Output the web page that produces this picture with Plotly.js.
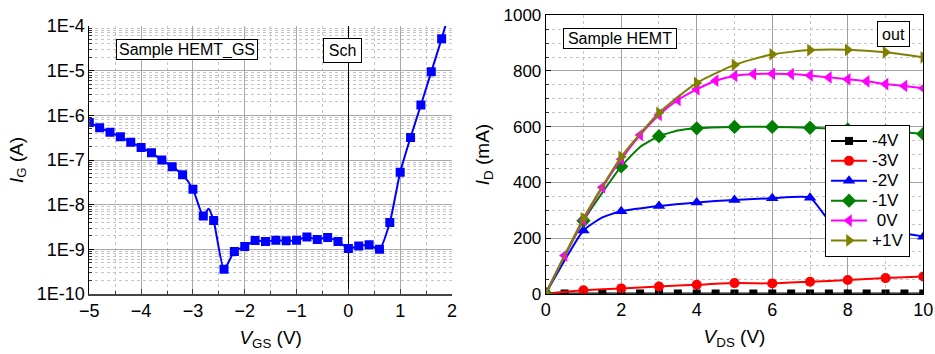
<!DOCTYPE html>
<html>
<head>
<meta charset="utf-8">
<script src="https://cdn.plot.ly/plotly-3.0.1.min.js"></script>
<style>html,body{margin:0;padding:0;background:#fff;}#chart{width:935px;height:354px;}</style>
</head>
<body>
<div id="chart"></div>
<script>
// ---------- Left panel: gate leakage I_G vs V_GS ----------
const vgs = [-5,-4.8,-4.6,-4.4,-4.2,-4,-3.8,-3.6,-3.4,-3.2,-3,-2.8,-2.6,-2.4,-2.2,-2,-1.8,-1.6,-1.4,-1.2,-1,-0.8,-0.6,-0.4,-0.2,0,0.2,0.4,0.6,0.8,1,1.2,1.4,1.6,1.8];
const ig = [6.9e-7,5.3e-7,4.2e-7,3.3e-7,2.5e-7,1.9e-7,1.45e-7,1.0e-7,7.1e-8,4.7e-8,2.2e-8,5.6e-9,4.4e-9,3.6e-10,8.9e-10,1.15e-9,1.57e-9,1.5e-9,1.6e-9,1.55e-9,1.6e-9,1.9e-9,1.65e-9,1.85e-9,1.5e-9,1.05e-9,1.18e-9,1.26e-9,1.0e-9,4.0e-9,5.3e-8,3.2e-7,1.7e-6,9.4e-6,5.2e-5];
// line-only points (no marker drawn there)
const vgsLineOnly = [-2.7, 1.9];
const igLineOnly = [8.1e-9, 1.3e-4];
const igTickVals = [1e-10,1e-9,1e-8,1e-7,1e-6,1e-5,1e-4];
const igTickText = ['1E-10','1E-9','1E-8','1E-7','1E-6','1E-5','1E-4'];

// ---------- Right panel: output I_D vs V_DS ----------
const vdsInt = [0,1,2,3,4,5,6,7,8,9,10];
const vdsHalf = [0,0.5,1,1.5,2,2.5,3,3.5,4,4.5,5,5.5,6,6.5,7,7.5,8,8.5,9,9.5,10];
const idM4V = [0,1,1,1,1,1,1,1,1,1,1,1,1,1,1,1,1,1,1,1,1];              // on vdsHalf
const idM3V = [0,12,19,26,32,38,37,43,49,56,62];                          // on vdsInt
const idM2V = [0,227,296,315,328,337,343,345,245,228,205];                // on vdsInt
const idM1V = [0,262,457,566,594,599,599,596,590,584,574];                // on vdsInt
const id0V  = [0,137,265,382,483,570,642,696,734,765,782,789,790,789,784,777,770,763,753,746,738]; // on vdsHalf
const idP1V = [0,271,492,650,757,822,860,875,876,867,849];                // on vdsInt
const vdsM2VLineOnly = [1.5, 7.5];
const idM2VLineOnly = [274, 265];
const vdsM1VLineOnly = [2.5, 3.5];
const idM1VLineOnly = [527, 586];
const seriesNames = ['-4V','-3V','-2V','-1V','\u00a00V','+1V'];

const FONT = 'Arial, "Liberation Sans", sans-serif';
const W = 935, H = 354;

function merge(xm, ym, xe, ye, color) {
  const pts = xm.map((x,i)=>({x, y: ym[i], c: color}));
  (xe||[]).forEach((x,i)=>pts.push({x, y: ye[i], c: 'rgba(0,0,0,0)'}));
  pts.sort((a,b)=>a.x-b.x);
  return {x: pts.map(p=>p.x), y: pts.map(p=>p.y), c: pts.map(p=>p.c)};
}

const traces = [];
const L = merge(vgs, ig, vgsLineOnly, igLineOnly, '#0000ff');
traces.push({
  x: L.x, y: L.y, xaxis: 'x', yaxis: 'y', mode: 'lines+markers', showlegend: false,
  line: {color: '#0000ff', width: 2, shape: 'spline', smoothing: 0.6},
  marker: {symbol: 'square', size: 9, color: L.c, line: {width: 0}}
});

function outTrace(name, xm, ym, xe, ye, color, symbol, size) {
  const m = merge(xm, ym, xe, ye, color);
  return {
    name: '<span style="font-size:17px">' + name + '</span>',
    x: m.x, y: m.y, xaxis: 'x2', yaxis: 'y2', mode: 'lines+markers',
    line: {color, width: 2, shape: 'spline', smoothing: 0.5},
    marker: {symbol, size, color: m.c, line: {width: 0}}
  };
}
traces.push(outTrace(seriesNames[0], vdsHalf, idM4V, null, null, '#000000', 'square', 8));
traces.push(outTrace(seriesNames[1], vdsInt, idM3V, null, null, '#ff0000', 'circle', 10));
traces.push(outTrace(seriesNames[2], vdsInt, idM2V, vdsM2VLineOnly, idM2VLineOnly, '#0000ff', 'triangle-up', 11));
traces.push(outTrace(seriesNames[3], vdsInt, idM1V, vdsM1VLineOnly, idM1VLineOnly, '#008000', 'diamond', 11));
traces.push(outTrace(seriesNames[4], vdsHalf, id0V, null, null, '#ff00ff', 'triangle-left', 11));
traces.push(outTrace(seriesNames[5], vdsInt, idP1V, null, null, '#808000', 'triangle-right', 11));

const minorGrid = {showgrid: true, gridcolor: '#c4c4c4', griddash: 'dot', gridwidth: 1, ticks: 'inside', ticklen: 3, tickcolor: '#333'};

const layout = {
  width: W, height: H,
  margin: {l: 0, r: 0, t: 0, b: 0},
  paper_bgcolor: '#fff', plot_bgcolor: '#fff',
  font: {family: FONT, color: '#000', size: 18},
  showlegend: true,
  legend: {
    x: 825/W, y: 1 - 125/H, xanchor: 'left', yanchor: 'top',
    bgcolor: '#fff', bordercolor: '#000', borderwidth: 1,
    font: {family: FONT, size: 13, color: '#000'}, itemwidth: 36,
    tracegroupgap: 0
  },
  xaxis: {
    domain: [89.3/W, 452/W], anchor: 'y', range: [-5, 2], dtick: 1, tick0: 0,
    showline: true, linecolor: '#444', linewidth: 1.5,
    ticks: 'inside', ticklen: 5, tickcolor: '#444',
    showgrid: true, gridcolor: '#a8a8a8', gridwidth: 1,
    zeroline: true, zerolinecolor: '#000', zerolinewidth: 1,
    minor: Object.assign({dtick: 0.5}, minorGrid),
    tickfont: {size: 18},
    title: {text: '<i>V</i><sub>GS</sub> (V)', font: {size: 19}, standoff: 10},
    automargin: false
  },
  yaxis: {
    domain: [1 - 294/H, 1 - 26/H], anchor: 'x', type: 'log', range: [-10, -4],
    tickmode: 'array', tickvals: igTickVals, ticktext: igTickText,
    showline: true, linecolor: '#000', linewidth: 1,
    ticks: 'inside', ticklen: 5, tickcolor: '#000',
    showgrid: true, gridcolor: '#a8a8a8', gridwidth: 1,
    minor: Object.assign({dtick: 'D1'}, minorGrid),
    tickfont: {size: 18},
    title: {text: '<i>I</i><sub>G</sub> (A)', font: {size: 19}, standoff: 8},
    automargin: false
  },
  xaxis2: {
    domain: [545.7/W, 923.3/W], anchor: 'y2', range: [0, 10], dtick: 2, tick0: 0,
    showline: true, mirror: true, linecolor: '#000', linewidth: 1,
    ticks: 'inside', ticklen: 5, tickcolor: '#000',
    showgrid: true, gridcolor: '#a0a0a0', gridwidth: 1, zeroline: false,
    minor: Object.assign({dtick: 1}, minorGrid),
    tickfont: {size: 18},
    title: {text: '<i>V</i><sub>DS</sub> (V)', font: {size: 19}, standoff: 10},
    automargin: false
  },
  yaxis2: {
    domain: [1 - 293.7/H, 1 - 15.3/H], anchor: 'x2', range: [0, 1000], dtick: 200, tick0: 0,
    showline: true, mirror: true, linecolor: '#000', linewidth: 1,
    ticks: 'inside', ticklen: 5, tickcolor: '#000',
    showgrid: true, gridcolor: '#a0a0a0', gridwidth: 1, zeroline: false,
    minor: Object.assign({dtick: 50}, minorGrid),
    tickfont: {size: 17},
    title: {text: '<i>I</i><sub>D</sub> (mA)', font: {size: 19}, standoff: 8},
    automargin: false
  },
  annotations: [
    {text: 'Sample HEMT_GS', xref: 'paper', yref: 'paper', x: 187/W, y: 1 - 49.5/H, xanchor: 'center', yanchor: 'middle',
     showarrow: false, font: {size: 16}, bordercolor: '#000', borderwidth: 1, borderpad: 1, bgcolor: '#fff', width: 138, height: 17},
    {text: 'Sch', xref: 'paper', yref: 'paper', x: 342.5/W, y: 1 - 50.5/H, xanchor: 'center', yanchor: 'middle',
     showarrow: false, font: {size: 16}, bordercolor: '#000', borderwidth: 1, borderpad: 1, bgcolor: '#fff', width: 35, height: 21},
    {text: 'Sample HEMT', xref: 'paper', yref: 'paper', x: 620/W, y: 1 - 38/H, xanchor: 'center', yanchor: 'middle',
     showarrow: false, font: {size: 16}, bordercolor: '#000', borderwidth: 1, borderpad: 1, bgcolor: '#fff', width: 110, height: 17},
    {text: 'out', xref: 'paper', yref: 'paper', x: 893/W, y: 1 - 34/H, xanchor: 'center', yanchor: 'middle',
     showarrow: false, font: {size: 16}, bordercolor: '#000', borderwidth: 1, borderpad: 1, bgcolor: '#fff', width: 29, height: 22}
  ]
};

Plotly.newPlot('chart', traces, layout, {displayModeBar: false, staticPlot: true});
</script>
</body>
</html>
